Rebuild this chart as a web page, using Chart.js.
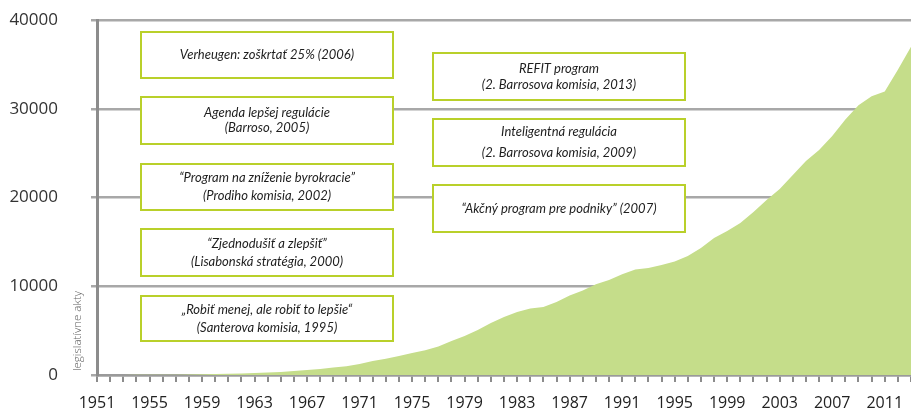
<!DOCTYPE html>
<html>
<head>
<meta charset="utf-8">
<script src="https://cdn.jsdelivr.net/npm/chart.js@4.4.1/dist/chart.umd.min.js"></script>
<style>
  html, body { margin: 0; padding: 0; background: #ffffff; }
  #wrap { width: 911px; height: 413px; position: relative; }
</style>
</head>
<body>
<div id="wrap"><canvas id="c"></canvas></div>
<script>
const years = [];
for (let y = 1951; y <= 2013; y++) years.push(String(y));

const acts = [
  0, 5, 10, 15, 20, 30, 40, 60, 80, 100,
  130, 170, 220, 280, 350, 450, 560, 680, 850, 1000,
  1240, 1580, 1830, 2140, 2480, 2800, 3210, 3830, 4390, 5070,
  5860, 6540, 7100, 7490, 7660, 8230, 8960, 9520, 10220, 10700,
  11350, 11900, 12050, 12400, 12790, 13400, 14300, 15440, 16220, 17120,
  18370, 19720, 20960, 22540, 24110, 25350, 26930, 28800, 30400, 31400,
  31950, 34400, 37000
];

const yTicks = [0, 10000, 20000, 30000, 40000];
const axisTitle = 'legislatívne akty';

const boxTexts = [
  ['Verheugen: zoškrtať 25% (2006)'],
  ['Agenda lepšej regulácie', '(Barroso, 2005)'],
  ['“Program na zníženie byrokracie”', '(Prodiho komisia, 2002)'],
  ['“Zjednodušiť a zlepšiť”', '(Lisabonská stratégia, 2000)'],
  ['„Robiť menej, ale robiť to lepšie“', '(Santerova komisia, 1995)'],
  ['REFIT program', '(2. Barrosova komisia, 2013)'],
  ['Inteligentná regulácia', '(2. Barrosova komisia, 2009)'],
  ['“Akčný program pre podniky” (2007)']
];
// box layout (pixels): x, y, w, h, line gap
const boxLayout = [
  [141, 32, 252, 46, 15],
  [141, 97, 252, 47, 15],
  [141, 164, 252, 46, 18],
  [141, 229, 252, 47, 18],
  [141, 296, 252, 45, 18],
  [433, 53, 252, 47, 16],
  [433, 119, 252, 47, 21],
  [433, 185, 252, 47, 16]
];

const overlay = {
  id: 'overlay',
  afterDraw(chart) {
    const ctx = chart.ctx;
    ctx.save();
    boxTexts.forEach((lines, i) => {
      const [x, y, w, h, gap] = boxLayout[i];
      ctx.fillStyle = '#ffffff';
      ctx.fillRect(x, y, w, h);
      ctx.strokeStyle = '#b9d02a';
      ctx.lineWidth = 2;
      ctx.strokeRect(x, y, w, h);
      ctx.fillStyle = '#1e1e1e';
      ctx.font = 'italic 13px Lato';
      ctx.textAlign = 'center';
      ctx.textBaseline = 'middle';
      const cy = y + h / 2;
      const n = lines.length;
      lines.forEach((t, k) => {
        ctx.fillText(t, x + w / 2, cy + (k - (n - 1) / 2) * gap);
      });
    });
    // rotated axis title
    ctx.translate(78, 331);
    ctx.rotate(-Math.PI / 2);
    ctx.fillStyle = '#5e5e5e';
    ctx.font = '300 11.5px "Open Sans"';
    ctx.textAlign = 'center';
    ctx.textBaseline = 'middle';
    ctx.fillText(axisTitle, 0, 0);
    ctx.restore();
  }
};

new Chart(document.getElementById('c'), {
  type: 'line',
  data: {
    labels: years,
    datasets: [{
      data: acts,
      fill: 'origin',
      backgroundColor: '#c5dd8a',
      borderWidth: 0,
      pointRadius: 0,
      tension: 0
    }]
  },
  options: {
    responsive: true,
    maintainAspectRatio: false,
    animation: false,
    layout: { padding: { top: 20, left: 0, right: 0, bottom: 0 } },
    plugins: { legend: { display: false }, tooltip: { enabled: false } },
    scales: {
      x: {
        type: 'category',
        offset: false,
        afterFit: (axis) => { axis.height = 38; axis.paddingLeft = 0; axis.paddingRight = 0; },
        grid: {
          display: true,
          drawOnChartArea: false,
          drawTicks: true,
          tickLength: 7,
          color: '#8c8c8c',
          lineWidth: 2
        },
        border: { display: true, color: '#9a9a9a', width: 2.5 },
        ticks: {
          autoSkip: false,
          maxRotation: 0,
          minRotation: 0,
          padding: 12,
          color: '#222222',
          font: { family: '"Open Sans"', size: 16 },
          callback: function(v, i) { return (i % 4 === 0 && i < 61) ? years[i] : ''; }
        }
      },
      y: {
        min: 0,
        max: 40000,
        afterBuildTicks: (axis) => { axis.ticks = yTicks.map(v => ({ value: v })); },
        afterFit: (axis) => { axis.width = 97; axis.paddingTop = 0; axis.paddingBottom = 0; },
        grid: {
          color: '#a8a8a8',
          lineWidth: 2.5,
          drawTicks: true,
          tickLength: 6
        },
        border: { display: true, color: '#8c8c8c', width: 3 },
        ticks: {
          padding: 33,
          color: '#333333',
          font: { family: '"Open Sans"', size: 17 },
          callback: v => String(v)
        }
      }
    }
  },
  plugins: [overlay]
});
</script>
</body>
</html>
